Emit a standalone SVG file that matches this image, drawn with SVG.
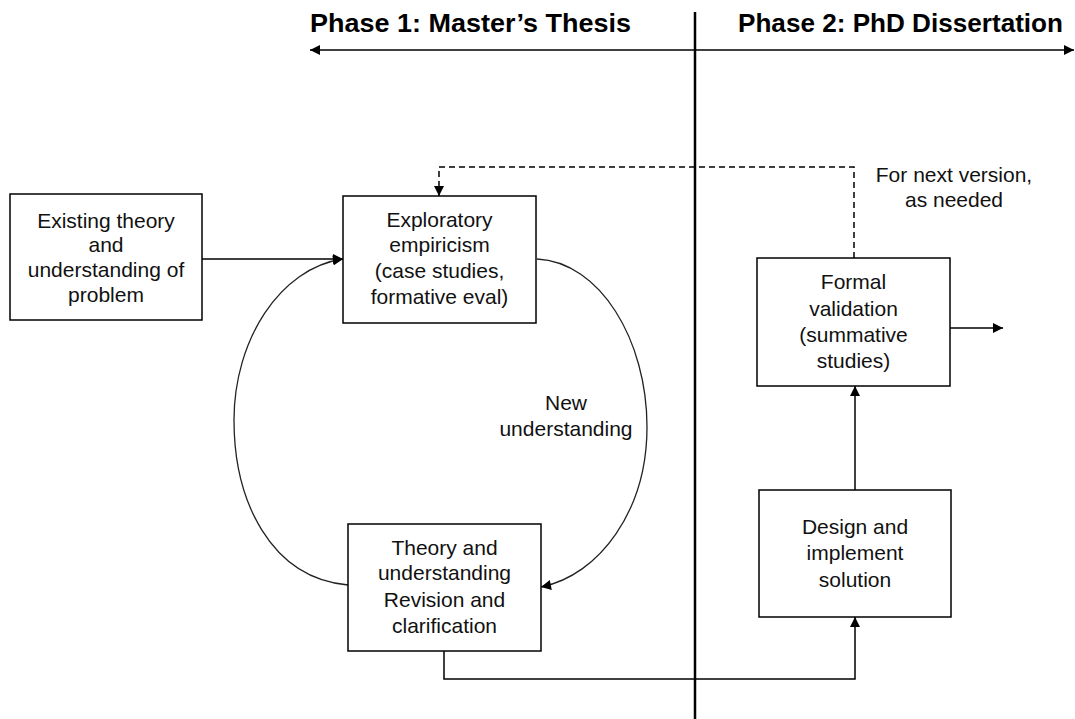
<svg xmlns="http://www.w3.org/2000/svg" width="1075" height="719" viewBox="0 0 1075 719">
  <defs>
    <marker id="arrow" viewBox="0 0 10 10" refX="10" refY="5" markerWidth="12" markerHeight="10" markerUnits="userSpaceOnUse" orient="auto">
      <path d="M0,0 L10,5 L0,10 Z" fill="#000"/>
    </marker>
    <marker id="arrowStart" viewBox="0 0 10 10" refX="0" refY="5" markerWidth="12" markerHeight="10" markerUnits="userSpaceOnUse" orient="auto">
      <path d="M10,0 L0,5 L10,10 Z" fill="#000"/>
    </marker>
    <style>
      .box { fill: #fff; stroke: #000; stroke-width: 1.5; }
      .label { font-family: "Liberation Sans", Arial, sans-serif; font-size: 21px; fill: #111; text-anchor: middle; }
      .phase { font-family: "Liberation Sans", Arial, sans-serif; font-size: 25px; font-weight: bold; fill: #000; }
      .edge { fill: none; stroke: #000; stroke-width: 1.5; }
      .curve { fill: none; stroke: #222; stroke-width: 1.3; }
      .dash { fill: none; stroke: #000; stroke-width: 1.5; stroke-dasharray: 6 4; }
    </style>
  </defs>
  <rect width="1075" height="719" fill="#fff"/>

  <!-- phase headings and timeline -->
  <g id="timeline">
    <text class="phase" x="310" y="32" textLength="321" lengthAdjust="spacingAndGlyphs">Phase 1: Master’s Thesis</text>
    <text class="phase" x="738" y="32" textLength="325" lengthAdjust="spacingAndGlyphs">Phase 2: PhD Dissertation</text>
    <line x1="310" y1="50" x2="1074" y2="50" stroke="#000" stroke-width="1.5" marker-start="url(#arrowStart)" marker-end="url(#arrow)"/>
    <line x1="695" y1="12" x2="695" y2="719" stroke="#000" stroke-width="2.5"/>
  </g>

  <!-- connectors -->
  <g id="connectors">
    <line class="edge" x1="202" y1="259" x2="343" y2="259" marker-end="url(#arrow)"/>
    <path class="curve" d="M537,259 C600,262 647,340 647,427 C647,510 600,575 541,587" marker-end="url(#arrow)"/>
    <path class="curve" d="M348,585 C270,578 234,500 234,420 C234,340 280,268 343,259" marker-end="url(#arrow)"/>
    <polyline class="edge" points="444,651 444,679 855,679 855,617" marker-end="url(#arrow)"/>
    <line class="edge" x1="855" y1="490" x2="855" y2="386" marker-end="url(#arrow)"/>
    <line class="edge" x1="950" y1="328" x2="1003" y2="328" marker-end="url(#arrow)"/>
    <polyline class="dash" points="854,258 854,167 439,167 439,196" marker-end="url(#arrow)"/>
    <text class="label" x="566" y="410">New</text>
    <text class="label" x="566" y="436">understanding</text>
    <text class="label" x="954" y="182">For next version,</text>
    <text class="label" x="954" y="207">as needed</text>
  </g>

  <!-- nodes -->
  <g id="existing-theory">
    <rect class="box" x="10" y="194" width="192" height="126"/>
    <text class="label" x="106" y="228">Existing theory</text>
    <text class="label" x="106" y="252">and</text>
    <text class="label" x="106" y="277">understanding of</text>
    <text class="label" x="106" y="302">problem</text>
  </g>

  <g id="exploratory-empiricism">
    <rect class="box" x="343" y="196" width="193" height="127"/>
    <text class="label" x="439.5" y="227">Exploratory</text>
    <text class="label" x="439.5" y="252">empiricism</text>
    <text class="label" x="439.5" y="278">(case studies,</text>
    <text class="label" x="439.5" y="304">formative eval)</text>
  </g>

  <g id="theory-revision">
    <rect class="box" x="348" y="524" width="193" height="127"/>
    <text class="label" x="444.5" y="555">Theory and</text>
    <text class="label" x="444.5" y="580">understanding</text>
    <text class="label" x="444.5" y="607">Revision and</text>
    <text class="label" x="444.5" y="633">clarification</text>
  </g>

  <g id="formal-validation">
    <rect class="box" x="757" y="258" width="193" height="128"/>
    <text class="label" x="853.5" y="289">Formal</text>
    <text class="label" x="853.5" y="316">validation</text>
    <text class="label" x="853.5" y="342">(summative</text>
    <text class="label" x="853.5" y="368">studies)</text>
  </g>

  <g id="design-implement">
    <rect class="box" x="759" y="490" width="192" height="127"/>
    <text class="label" x="855" y="534">Design and</text>
    <text class="label" x="855" y="560">implement</text>
    <text class="label" x="855" y="587">solution</text>
  </g>
</svg>
